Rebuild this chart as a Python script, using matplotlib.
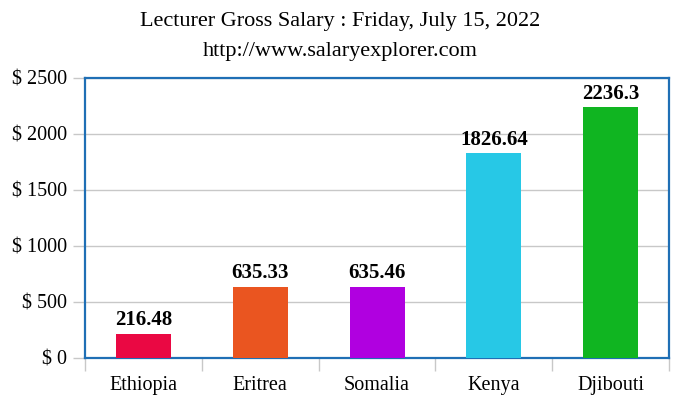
import matplotlib.pyplot as plt
import numpy as np
from matplotlib.ticker import FixedLocator

# Данные
countries = ['Ethiopia', 'Eritrea', 'Somalia', 'Kenya', 'Djibouti']
salaries = [216.48, 635.33, 635.46, 1826.64, 2236.3]
labels = ['216.48', '635.33', '635.46', '1826.64', '2236.3']
colors = ['#ea0843', '#ea5520', '#b000e0', '#27c8e6', '#10b521']
y_ticks = [0, 500, 1000, 1500, 2000, 2500]

plt.rcParams['font.family'] = ['Liberation Serif', 'DejaVu Serif']

fig = plt.figure(figsize=(6.8, 4.11), dpi=100)
ax = fig.add_axes([0.125, 0.129, 0.859, 0.682])

x = np.arange(len(countries))
ax.bar(x, salaries, width=0.47, color=colors, zorder=3)

for xi, val, lab in zip(x, salaries, labels):
    ax.text(xi, val + 30, lab, ha='center', va='bottom',
            fontsize=15, fontweight='bold', zorder=4)

ax.set_xlim(-0.5, len(countries) - 0.5)
ax.set_ylim(0, 2500)
ax.set_yticks(y_ticks)
ax.set_yticklabels([f'$ {v}' for v in y_ticks], fontsize=14.5)
ax.set_xticks(x)
ax.set_xticklabels(countries, fontsize=14.5)
ax.xaxis.set_minor_locator(FixedLocator(np.arange(-0.5, len(countries), 1.0)))

ax.tick_params(axis='x', which='major', length=0, pad=13)
ax.tick_params(axis='x', which='minor', length=9, color='#c8c8c8', width=1)
ax.tick_params(axis='y', length=9, color='#c8c8c8', width=1, pad=4)
ax.grid(axis='y', color='#c8c8c8', linewidth=1, zorder=0)

for s in ax.spines.values():
    s.set_color('#1f6fb5')
    s.set_linewidth(1.6)

fig.text(0.5, 0.948, 'Lecturer Gross Salary : Friday, July 15, 2022',
         ha='center', va='center', fontsize=16)
fig.text(0.5, 0.875, 'http://www.salaryexplorer.com',
         ha='center', va='center', fontsize=16)

fig.savefig('out.png', dpi=100)
